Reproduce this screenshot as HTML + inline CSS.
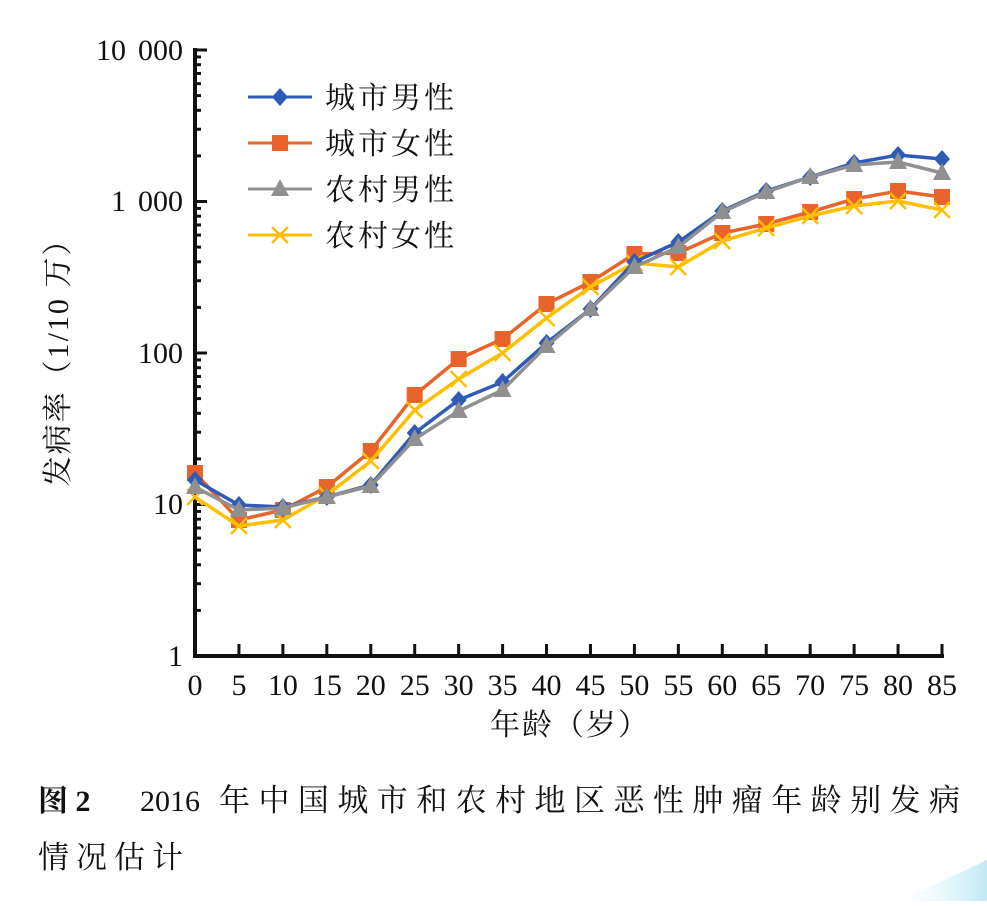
<!DOCTYPE html>
<html><head><meta charset="utf-8"><style>
body{margin:0;background:#fff;width:987px;height:901px;overflow:hidden}
text{font-family:"Liberation Serif","Noto Serif CJK SC",serif;fill:#111}
</style></head><body>
<svg width="987" height="901" viewBox="0 0 987 901" xmlns="http://www.w3.org/2000/svg">
<defs>
<linearGradient id="g" x1="0" y1="0" x2="1" y2="0"><stop offset="0" stop-color="#e6f6fb" stop-opacity="0"/><stop offset="1" stop-color="#bfe9f5"/></linearGradient>
</defs>
<path d="M900 901 L987 860 L987 901Z" fill="url(#g)"/>
<g id="axes" stroke="#111" stroke-width="4" fill="none">
<line x1="195" y1="48" x2="195" y2="658"/>
<line x1="193" y1="656" x2="944" y2="656"/>
</g>
<g id="ticks" stroke="#111" stroke-width="3"></g>
<g id="series"></g>
<g font-size="30">
<text x="183" y="60" text-anchor="end">10<tspan dx="12">000</tspan></text>
<text x="183" y="211" text-anchor="end">1<tspan dx="12">000</tspan></text>
<text x="183" y="363" text-anchor="end">100</text>
<text x="183" y="514" text-anchor="end">10</text>
<text x="183" y="666" text-anchor="end">1</text>
<g id="xl"></g>
<text x="570" y="735" text-anchor="middle" letter-spacing="2">年龄（岁）</text>
<text transform="translate(68 355) rotate(-90)" text-anchor="middle" letter-spacing="2">发病率（1/10 万）</text>
<text x="325" y="108" letter-spacing="3">城市男性</text>
<text x="325" y="154" letter-spacing="3">城市女性</text>
<text x="325" y="200" letter-spacing="3">农村男性</text>
<text x="325" y="246" letter-spacing="3">农村女性</text>
<text x="38" y="811" font-weight="bold">图 2</text>
<text x="140" y="811">2016</text>
<text x="219" y="811" font-size="31" textLength="741" lengthAdjust="spacing">年中国城市和农村地区恶性肿瘤年龄别发病</text>
<text x="38" y="868" font-size="31" textLength="145" lengthAdjust="spacing">情况估计</text>
</g>
</svg>
<script>
var NS="http://www.w3.org/2000/svg";
function el(p,t,a){var e=document.createElementNS(NS,t);for(var k in a)e.setAttribute(k,a[k]);document.getElementById(p).appendChild(e);return e;}
var x0=195,dx=(942-195)/17;
for(var i=0;i<18;i++){var x=x0+i*dx;if(i>0)el('ticks','line',{x1:x,y1:656,x2:x,y2:644});
var t=el('xl','text',{x:x,y:695,'text-anchor':'middle'});t.textContent=i*5;}
var dec=151.5;
for(var d=0;d<4;d++){for(var m=1;m<=10;m++){var y=656-dec*(d+Math.log10(m));var L=(m==1||m==10)?12:6;el('ticks','line',{x1:195,y1:y,x2:195+L,y2:y});}}
var S=[
["#e8642a","sq",[473,520,510,487,451,395,359,339,304,282,254,253,233,224,212,199,191,197]],
["#ffbf00","x",[497,526,520,495,461,410,379,353,318,287,263,267,241,228,216,206,201,210]],
["#2e5bb8","di",[480,505,507,497,485,433,400,382,343,309,262,242,211,191,177,163,155,159]],
["#909090","tr",[487,510,508,497,486,439,411,390,346,309,267,247,212,192,177,165,162,173]]];
function mk(c,k,x,y){
if(k=="sq")el('series','rect',{x:x-8,y:y-8,width:16,height:16,fill:c});
if(k=="di")el('series','polygon',{points:(x)+","+(y-9)+" "+(x+8)+","+y+" "+x+","+(y+9)+" "+(x-8)+","+y,fill:c});
if(k=="tr")el('series','polygon',{points:x+","+(y-10)+" "+(x+9)+","+(y+7)+" "+(x-9)+","+(y+7),fill:c});
if(k=="x"){el('series','path',{d:"M"+(x-8)+" "+(y-8)+"L"+(x+8)+" "+(y+8)+"M"+(x+8)+" "+(y-8)+"L"+(x-8)+" "+(y+8),stroke:c,'stroke-width':2.5});}
}
var LY={"#2e5bb8":97,"#e8642a":143,"#909090":189,"#ffbf00":235};
S.forEach(function(s){var p=s[2].map(function(y,i){return (x0+i*dx)+","+y}).join(" ");
el('series','polyline',{points:p,fill:"none",stroke:s[0],'stroke-width':3.5});
s[2].forEach(function(y,i){mk(s[0],s[1],x0+i*dx,y)});
var ly=LY[s[0]];el('series','line',{x1:248,y1:ly,x2:312,y2:ly,stroke:s[0],'stroke-width':3});mk(s[0],s[1],280,ly);});
</script>
</body></html>
